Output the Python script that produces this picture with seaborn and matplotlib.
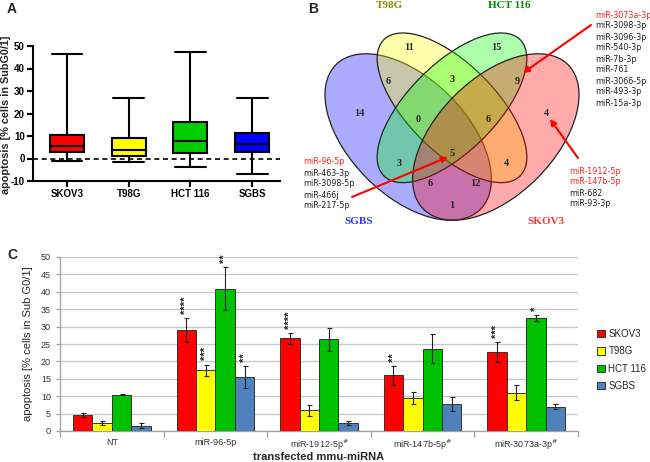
import matplotlib
matplotlib.use("Agg")
import matplotlib.pyplot as plt
import numpy as np
import pandas as pd
import seaborn as sns
from matplotlib.patches import Ellipse, Patch

# ---- panel A: five-number summaries (min, q1, median, q3, max) ----
lines_a = ["SKOV3", "T98G", "HCT 116", "SGBS"]
box_skov3 = [-1.1, 2.7, 5.5, 10.4, 46.6]
box_t98g = [-1.7, 1.3, 3.9, 9.2, 27.0]
box_hct116 = [-3.6, 2.6, 7.6, 16.2, 47.5]
box_sgbs = [-6.9, 3.0, 6.3, 11.5, 27.0]
box_colors = ["#ff0000", "#ffff00", "#00cc00", "#0000ff"]

# ---- panel B: venn counts and miRNA lists ----
venn_sets = ["SGBS", "T98G", "HCT 116", "SKOV3"]
venn_fill = ["#0000ff", "#ffff00", "#00ff00", "#ff0000"]
venn_label_colors = ["#3333ff", "#8c8c00", "#008c00", "#ff3333"]
region_counts = [11, 15, 14, 4, 6, 3, 9, 0, 6, 3, 5, 4, 6, 12, 1]
mirs_left = ["miR-96-5p", "miR-463-3p", "miR-3098-5p", "miR-466j", "miR-217-5p"]
mirs_top_right = ["miR-3073a-3p", "miR-3098-3p", "miR-3096-3p", "miR-540-3p",
                  "miR-7b-3p", "miR-761", "miR-3066-5p", "miR-493-3p", "miR-15a-3p"]
mirs_bottom_right = ["miR-1912-5p", "miR-147b-5p", "miR-682", "miR-93-3p"]
hits = {"miR-96-5p", "miR-3073a-3p", "miR-1912-5p", "miR-147b-5p"}

# ---- panel C: mean apoptosis, error and significance stars ----
groups_c = ["NT", "miR-96-5p", "miR-1912-5p$^{\\#}$", "miR-147b-5p$^{\\#}$", "miR-3073a-3p$^{\\#}$"]
lines_c = ["SKOV3", "T98G", "HCT 116", "SGBS"]
mean_skov3 = [4.6, 29.0, 26.6, 16.0, 22.6]
mean_t98g = [2.2, 17.5, 6.0, 9.4, 11.0]
mean_hct116 = [10.4, 40.9, 26.3, 23.6, 32.5]
mean_sgbs = [1.5, 15.6, 2.4, 7.8, 7.0]
err_skov3 = [0.7, 3.5, 1.5, 2.7, 2.9]
err_t98g = [0.55, 1.6, 1.6, 1.7, 2.1]
err_hct116 = [0.1, 6.1, 3.3, 4.2, 0.9]
err_sgbs = [0.7, 3.1, 0.6, 2.0, 0.8]
stars_skov3 = [0, 4, 4, 2, 3]
stars_t98g = [0, 3, 0, 0, 0]
stars_hct116 = [0, 2, 0, 0, 1]
stars_sgbs = [0, 2, 0, 0, 0]
bar_colors = ["#ff0000", "#ffff00", "#00c000", "#4f81bd"]

sns.set_style("white")
plt.rcParams["font.family"] = ["Liberation Sans", "DejaVu Sans"]
plt.rcParams["axes.unicode_minus"] = False

W, H = 650, 462
fig = plt.figure(figsize=(6.5, 4.62), dpi=100)


def px_axes(x0, y0, x1, y1):
    return fig.add_axes([x0 / W, 1 - y1 / H, (x1 - x0) / W, (y1 - y0) / H])


# ================= A =================
ax_a = px_axes(33, 46, 280, 181)
df_a = pd.DataFrame({
    "line": np.repeat(lines_a, 5),
    "value": box_skov3 + box_t98g + box_hct116 + box_sgbs,
})
sns.boxplot(data=df_a, x="line", y="value", hue="line", order=lines_a,
            palette=box_colors, whis=(0, 100), width=0.55, linewidth=1.5,
            linecolor="black", legend=False, saturation=1, capwidths=0.5, ax=ax_a)
ax_a.axhline(0, color="black", lw=1.2, ls=(0, (3, 2.2)), zorder=0)
ax_a.set_xlim(-0.55, 3.45)
ax_a.set_ylim(-10, 50)
ax_a.set_yticks([-10, 0, 10, 20, 30, 40, 50])
ax_a.set_xlabel("")
ax_a.set_ylabel("apoptosis [% cells in SubG0/1]", fontsize=7.8, fontweight="bold")
ax_a.yaxis.set_label_coords(-0.09, 0.49)
for s in ["top", "right"]:
    ax_a.spines[s].set_visible(False)
for s in ["left", "bottom"]:
    ax_a.spines[s].set_linewidth(1.5)
    ax_a.spines[s].set_color("black")
ax_a.tick_params(axis="both", length=4, width=1.5, colors="black", labelsize=7, pad=2,
                 bottom=True, left=True)
for lab in ax_a.get_xticklabels() + ax_a.get_yticklabels():
    lab.set_fontweight("bold")

# ================= B =================
ax_v = px_axes(250, 0, 650, 232)
ax_v.set_xlim(250, 650)
ax_v.set_ylim(232, 0)
ax_v.axis("off")
# ellipse layout (centre x, centre y, width, height, angle) in pixel units
ell_layout = [(408.2, 137.0, 204.4, 116.8, 45),
              (452.0, 107.8, 192.7, 87.6, 45),
              (452.0, 107.8, 192.7, 87.6, -45),
              (495.8, 137.0, 204.4, 116.8, -45)]
for (cx, cy, w, h, ang), col in zip(ell_layout, venn_fill):
    ax_v.add_patch(Ellipse((cx, cy), w, h, angle=ang, facecolor=col, alpha=0.33,
                           edgecolor="none"))
    ax_v.add_patch(Ellipse((cx, cy), w, h, angle=ang, facecolor="none",
                           edgecolor="#222222", lw=0.9))

count_pos = [(409, 47), (496, 47), (359, 113), (546, 113), (388, 81), (452, 79),
             (517, 81), (418, 120), (488, 120), (399, 163), (452, 154), (506, 163),
             (430, 183), (475, 183), (452, 205)]
for n, (x, y) in zip(region_counts, count_pos):
    ax_v.text(x, y, str(n), ha="center", va="center", fontsize=7.5, fontweight="bold",
              family="Liberation Serif")

set_pos = [(359, 221), (389, 6), (509, 5), (546, 221)]
for name, col, (x, y) in zip(venn_sets, venn_label_colors, set_pos):
    ax_v.text(x, y, name, ha="center", va="center", fontsize=8, fontweight="bold",
              color=col, family="Liberation Serif")


def mir_list(names, x, y0):
    for i, name in enumerate(names):
        ax_v.text(x, y0 + i * 11, name, ha="left", va="center", fontsize=5.8,
                  family="DejaVu Sans",
                  color="#ff2020" if name in hits else "#222222")


mir_list(mirs_left, 303, 162)
mir_list(mirs_top_right, 595, 15)
mir_list(mirs_bottom_right, 569, 171)

arrow_kw = dict(arrowstyle="-|>", color="red", lw=1.5, mutation_scale=9, shrinkA=0, shrinkB=0)
ax_v.annotate("", xy=(448, 157), xytext=(352, 197), arrowprops=arrow_kw)
ax_v.annotate("", xy=(523, 73), xytext=(591, 25), arrowprops=arrow_kw)
ax_v.annotate("", xy=(550, 119), xytext=(578, 158), arrowprops=arrow_kw)

# ================= C =================
ax_c = px_axes(60, 257, 578, 431)
df_c = pd.DataFrame({
    "group": groups_c * 4,
    "line": np.repeat(lines_c, len(groups_c)),
    "value": mean_skov3 + mean_t98g + mean_hct116 + mean_sgbs,
})
errs = [err_skov3, err_t98g, err_hct116, err_sgbs]
stars = [stars_skov3, stars_t98g, stars_hct116, stars_sgbs]
sns.barplot(data=df_c, x="group", y="value", hue="line", order=groups_c,
            hue_order=lines_c, palette=bar_colors, width=0.75, errorbar=None,
            saturation=1, edgecolor="#333333", linewidth=0.7, zorder=3, ax=ax_c)
for cont, e, st in zip(ax_c.containers, errs, stars):
    xs = [b.get_x() + b.get_width() / 2 for b in cont]
    hs = [b.get_height() for b in cont]
    ax_c.errorbar(xs, hs, yerr=e, fmt="none", ecolor="#222222", elinewidth=0.8,
                  capsize=1.8, capthick=0.8, zorder=4)
    for x, h, ee, n in zip(xs, hs, e, st):
        if n:
            ax_c.text(x, h + ee + 1.2, "*" * n, rotation=90, ha="center", va="bottom",
                      fontsize=8, fontweight="bold", color="#222222", clip_on=False)

ax_c.set_ylim(0, 50)
ax_c.set_xlim(-0.5, 4.5)
ax_c.set_yticks(range(0, 51, 5))
ax_c.yaxis.grid(True, color="#c8c8c8", lw=1.0)
ax_c.set_axisbelow(True)
for s in ["top", "right"]:
    ax_c.spines[s].set_visible(False)
for s in ["left", "bottom"]:
    ax_c.spines[s].set_color("#a0a0a0")
    ax_c.spines[s].set_linewidth(0.9)
ax_c.set_xticks(np.arange(-0.5, 5, 1), minor=True)
ax_c.tick_params(axis="x", which="major", length=0, labelsize=6.5, colors="#333333", pad=5)
ax_c.tick_params(axis="x", which="minor", length=4, width=0.9, color="#a0a0a0", bottom=True)
ax_c.tick_params(axis="y", length=3, width=0.9, color="#a0a0a0", labelsize=6.5,
                 labelcolor="#333333", left=True)
ax_c.set_xlabel("transfected mmu-miRNA", fontsize=8, fontweight="bold")
ax_c.xaxis.set_label_coords(0.5, -0.118)
ax_c.set_ylabel("apoptosis [% cells in Sub G0/1]", fontsize=8, labelpad=6)
if ax_c.get_legend() is not None:
    ax_c.get_legend().remove()
handles = [Patch(facecolor=c, edgecolor="#333333", lw=0.7) for c in bar_colors]
fig.legend(handles, lines_c, loc="center left", bbox_to_anchor=(588 / W, 1 - 360 / H),
           frameon=False, fontsize=7, handlelength=0.8, handleheight=0.8,
           handletextpad=0.4, labelspacing=0.75)

# panel letters
fig.text(7 / W, 1 - 9 / H, "A", fontsize=10, fontweight="bold", va="center")
fig.text(308 / W, 1 - 9 / H, "B", fontsize=10, fontweight="bold", va="center")
fig.text(7 / W, 1 - 255 / H, "C", fontsize=10, fontweight="bold", va="center")

fig.savefig("out.png", dpi=100)
